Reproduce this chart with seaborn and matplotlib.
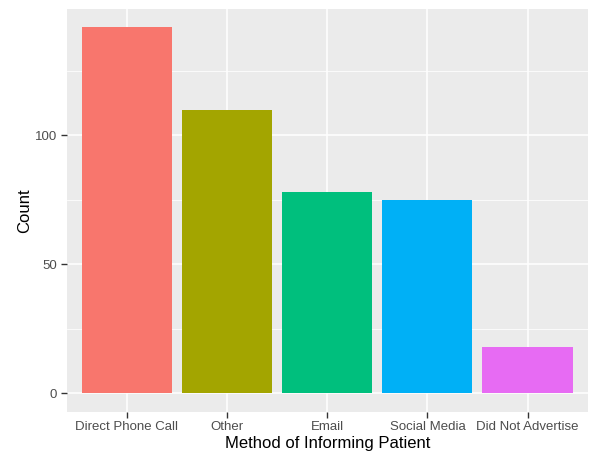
import matplotlib
matplotlib.use("Agg")
import matplotlib.pyplot as plt
import seaborn as sns
import pandas as pd
from matplotlib.ticker import MultipleLocator

categories = ["Direct Phone Call", "Other", "Email", "Social Media", "Did Not Advertise"]
counts = [142, 110, 78, 75, 18]
colors = ["#F8766D", "#A3A500", "#00BF7D", "#00B0F6", "#E76BF3"]

df = pd.DataFrame({"method": categories, "count": counts})

plt.rcParams['font.family'] = ['Liberation Sans', 'DejaVu Sans']

fig = plt.figure(figsize=(5.92, 4.55), dpi=100)
ax = fig.add_axes([66.7/592, 1 - 411.7/455, (587.7-66.7)/592, (411.7-8.7)/455])

sns.barplot(data=df, x="method", y="count", hue="method", palette=colors,
            order=categories, hue_order=categories, width=0.9, saturation=1,
            legend=False, ax=ax, zorder=3)

ax.set_facecolor("#EBEBEB")
for s in ax.spines.values():
    s.set_visible(False)
ax.set_xlim(-0.6, 4.6)
ax.set_ylim(-7.1, 149.1)
ax.yaxis.set_major_locator(MultipleLocator(50))
ax.yaxis.set_minor_locator(MultipleLocator(25))
ax.grid(which="major", color="white", linewidth=1.1, zorder=0)
ax.grid(which="minor", axis="y", color="white", linewidth=0.55, zorder=0)
ax.set_axisbelow(True)
ax.tick_params(axis="both", which="major", length=4, width=1, color="#333333",
               labelsize=9.5, labelcolor="#4D4D4D", pad=3)
ax.tick_params(axis="both", which="minor", length=0)
ax.set_xlabel("Method of Informing Patient", fontsize=12, color="black", labelpad=2)
ax.set_ylabel("Count", fontsize=12, color="black", labelpad=2)

fig.savefig("out.png", dpi=100)
